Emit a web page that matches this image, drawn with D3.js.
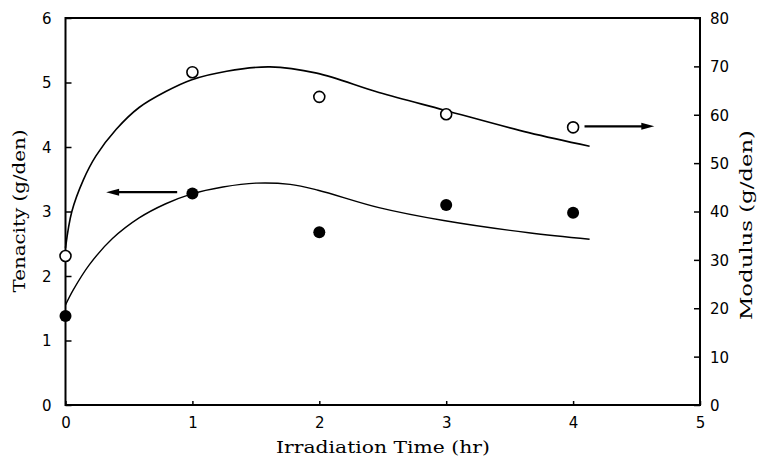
<!DOCTYPE html>
<html><head><meta charset="utf-8">
<script src="https://cdn.jsdelivr.net/npm/d3@7"></script>
<style>body{margin:0;background:#fff}svg{display:block}</style>
</head><body>
<svg id="c" width="762" height="456"></svg>
<script>
// Data
const times = [0, 1, 2, 3, 4];
const tenacity = [1.38, 3.28, 2.68, 3.10, 2.98];        // g/den, left axis (filled)
const modulus = [30.8, 68.8, 63.7, 60.1, 57.4];         // g/den, right axis (open)
const modFitX = [0, 0.05, 0.14, 0.24, 0.40, 0.58, 0.79, 0.99, 1.27, 1.61, 1.98, 2.47, 2.98, 3.65, 4.13];
const modFitY = [32.5, 40.0, 46.5, 51.5, 57.0, 61.5, 64.8, 67.2, 69.0, 69.9, 68.6, 64.6, 61.0, 56.3, 53.5];
const tenFitX = [0, 0.06, 0.19, 0.37, 0.58, 0.79, 0.99, 1.24, 1.5, 1.77, 1.99, 2.47, 2.98, 3.65, 4.13];
const tenFitY = [1.55, 1.78, 2.18, 2.58, 2.90, 3.12, 3.27, 3.38, 3.44, 3.42, 3.33, 3.06, 2.86, 2.67, 2.57];
const xTicks = [0, 1, 2, 3, 4, 5];
const leftTicks = [0, 1, 2, 3, 4, 5, 6];
const rightTicks = [0, 10, 20, 30, 40, 50, 60, 70, 80];
const arrowLeft = {x0: 0.88, x1: 0.32, y: 3.3};
const arrowRight = {x0: 4.09, x1: 4.64, y: 57.6};

const svg = d3.select("#c");
const L = 65.5, R = 700, T = 18, B = 405;
const x = d3.scaleLinear().domain([0, 5]).range([L, R]);
const yL = d3.scaleLinear().domain([0, 6]).range([B, T]);
const yR = d3.scaleLinear().domain([0, 80]).range([B, T]);

const tickFont = "'DejaVu Sans', sans-serif";
const titleFont = "'DejaVu Serif', serif";

const gx = svg.append("g").attr("transform", `translate(0,${B})`)
  .call(d3.axisBottom(x).tickValues(xTicks).tickFormat(d3.format("d")).tickSize(-4).tickPadding(12));
const gl = svg.append("g").attr("transform", `translate(${L},0)`)
  .call(d3.axisLeft(yL).tickValues(leftTicks).tickFormat(d3.format("d")).tickSize(-6).tickPadding(14));
const gr = svg.append("g").attr("transform", `translate(${R},0)`)
  .call(d3.axisRight(yR).tickValues(rightTicks).tickFormat(d3.format("d")).tickSize(-6).tickPadding(10));
[gx, gl, gr].forEach(g => {
  g.select(".domain").remove();
  g.selectAll("line").attr("stroke", "#000").attr("stroke-width", 1.5);
  g.selectAll("text").attr("font-family", tickFont).attr("font-size", 15).attr("fill", "#000");
});
gl.selectAll("text").attr("dy", "0.36em");
gr.selectAll("text").attr("dy", "0.36em");
gx.selectAll("text").attr("dy", "0.71em");

svg.append("path")
  .attr("d", `M${L},${T}H${R}V${B}H${L}Z`)
  .attr("fill", "none").attr("stroke", "#000").attr("stroke-width", 2);

const lineR = d3.line().x(d => x(d[0])).y(d => yR(d[1])).curve(d3.curveCatmullRom.alpha(0.5));
const lineL = d3.line().x(d => x(d[0])).y(d => yL(d[1])).curve(d3.curveCatmullRom.alpha(0.5));
svg.append("path").attr("d", lineR(d3.zip(modFitX, modFitY)))
  .attr("fill", "none").attr("stroke", "#000").attr("stroke-width", 1.6);
svg.append("path").attr("d", lineL(d3.zip(tenFitX, tenFitY)))
  .attr("fill", "none").attr("stroke", "#000").attr("stroke-width", 1.4);

svg.append("g").selectAll("circle").data(d3.zip(times, modulus)).join("circle")
  .attr("cx", d => x(d[0])).attr("cy", d => yR(d[1])).attr("r", 5.5)
  .attr("fill", "#fff").attr("stroke", "#000").attr("stroke-width", 1.6);
svg.append("g").selectAll("circle").data(d3.zip(times, tenacity)).join("circle")
  .attr("cx", d => x(d[0])).attr("cy", d => yL(d[1])).attr("r", 6)
  .attr("fill", "#000");

function arrow(x0, x1, y) {
  const dir = Math.sign(x1 - x0);
  svg.append("line").attr("x1", x0).attr("x2", x1 - dir * 8).attr("y1", y).attr("y2", y)
    .attr("stroke", "#000").attr("stroke-width", 2.2);
  svg.append("path")
    .attr("d", `M${x1},${y}L${x1 - dir * 13},${y - 3.5}L${x1 - dir * 13},${y + 3.5}Z`)
    .attr("fill", "#000");
}
arrow(x(arrowLeft.x0), x(arrowLeft.x1), yL(arrowLeft.y));
arrow(x(arrowRight.x0), x(arrowRight.x1), yR(arrowRight.y));

svg.append("text").attr("x", 383).attr("y", 453).attr("text-anchor", "middle")
  .attr("font-family", titleFont).attr("font-size", 16.5)
  .attr("textLength", 214).attr("lengthAdjust", "spacingAndGlyphs").text("Irradiation Time (hr)");
svg.append("text").attr("transform", "translate(25,211) rotate(-90)").attr("text-anchor", "middle")
  .attr("font-family", titleFont).attr("font-size", 16.5)
  .attr("textLength", 163).attr("lengthAdjust", "spacingAndGlyphs").text("Tenacity (g/den)");
svg.append("text").attr("transform", "translate(752,225) rotate(-90)").attr("text-anchor", "middle")
  .attr("font-family", titleFont).attr("font-size", 16.5)
  .attr("textLength", 190).attr("lengthAdjust", "spacingAndGlyphs").text("Modulus (g/den)");
</script>
</body></html>
